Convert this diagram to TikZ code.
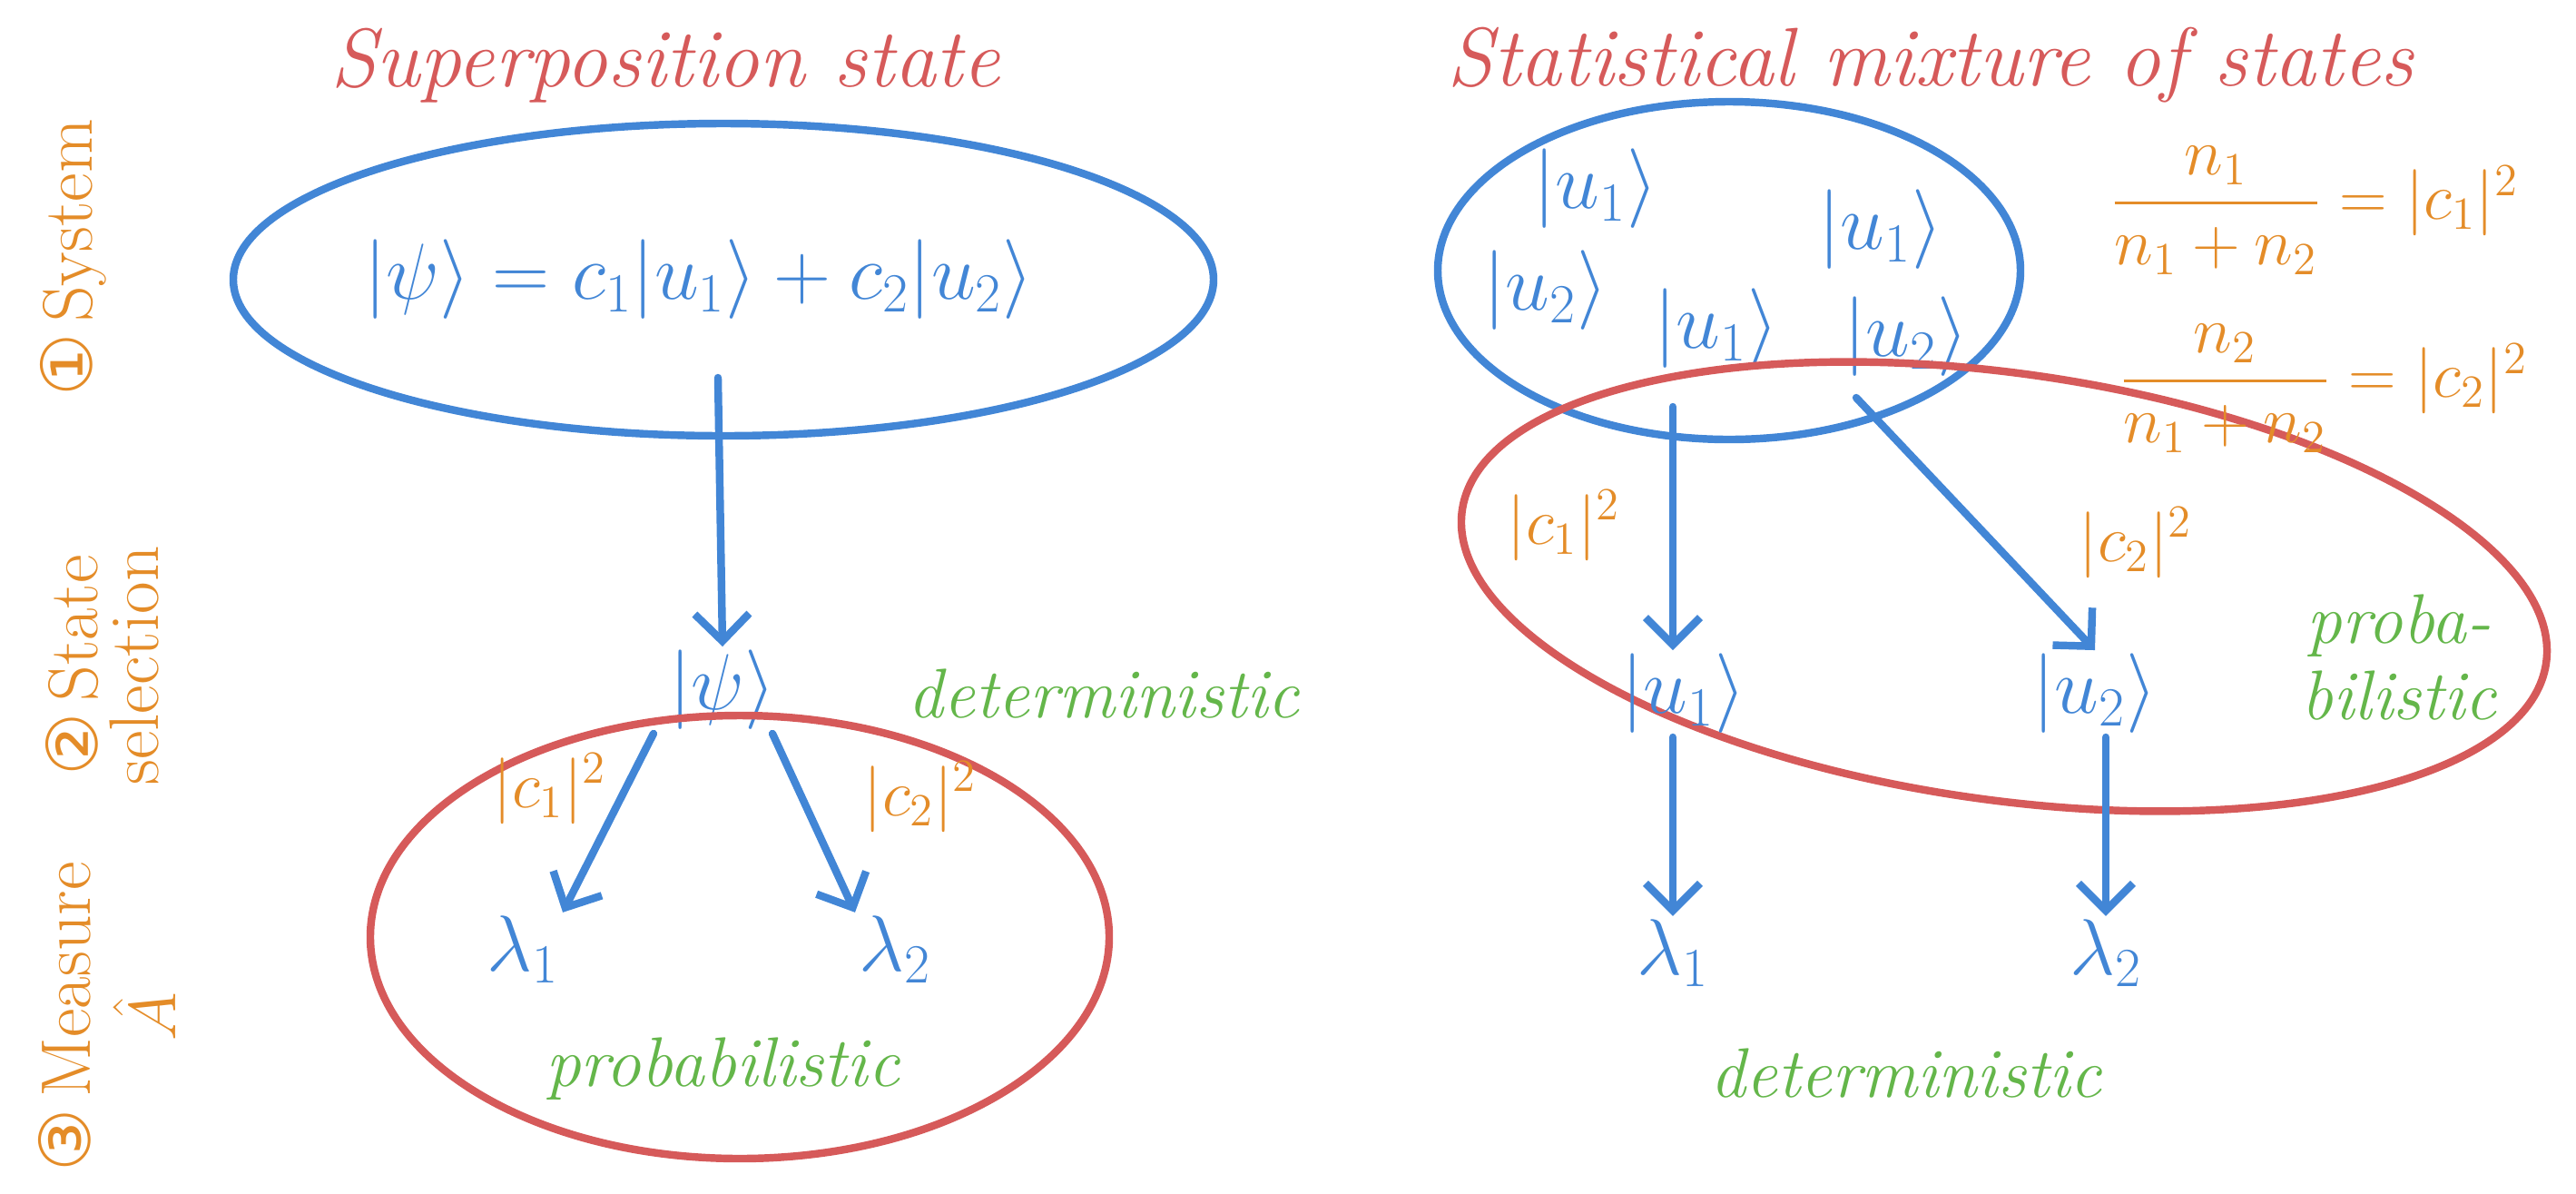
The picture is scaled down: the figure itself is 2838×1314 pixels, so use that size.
\documentclass[tikz,border=0pt]{standalone}
\usepackage{amsmath}
\usepackage{fontspec}
\newfontfamily\circfont{DejaVu Sans}
\usetikzlibrary{arrows.meta, positioning, calc}
\definecolor{inkblue}{RGB}{66,134,214}
\definecolor{inkred}{RGB}{214,90,90}
\definecolor{inkorange}{RGB}{228,140,40}
\definecolor{inkgreen}{RGB}{100,182,74}

\tikzset{
  pen/.style={line width=2.4pt, line cap=round},
  arr/.style={pen, draw=inkblue, -{Straight Barb[length=3mm, width=6mm]}},
  ket/.style={text=inkblue, font=\fontsize{24}{28}\selectfont, inner sep=1pt},
  prob/.style={text=inkorange, font=\fontsize{22}{26}\selectfont, inner sep=1pt},
  title/.style={text=inkred, font=\fontsize{26}{30}\selectfont\itshape},
  remark/.style={text=inkgreen, font=\fontsize{22}{24}\selectfont\itshape, align=center},
  stage/.style={text=inkorange, font=\fontsize{22}{19}\selectfont, rotate=90, align=center}
}

\begin{document}
\begin{tikzpicture}[x=0.01cm, y=-0.01cm]
  \useasboundingbox (0,0) rectangle (2838,1314);

  % stages
  \node[stage] (sys)  at (81,284)   {{\circfont ①}\,System};
  \node[stage] (sel)  at (113,733)  {{\circfont ②}\,State\\selection};
  \node[stage] (meas) at (118,1120) {{\circfont ③}\,Measure\\[6pt]$\hat{A}$};

  % superposition
  \node[title] (suptitle) at (733,72) {Superposition state};
  \draw[pen, inkblue] (797,308) ellipse [x radius=540, y radius=172];
  \node[ket, font=\fontsize{26}{30}\selectfont] (eq) at (770,308) {$|\psi\rangle = c_1|u_1\rangle + c_2|u_2\rangle$};
  \coordinate (eqfoot) at (791,416);
  \node[ket] (psi) at (796,760) {$|\psi\rangle$};
  \node[remark] (detl) at (1216,764) {deterministic};
  \draw[pen, inkred] (815,1032) ellipse [x radius=407, y radius=244];
  \node[ket] (la) at (576,1046) {$\lambda_1$};
  \node[ket] (lb) at (986,1046) {$\lambda_2$};
  \node[prob] (pa) at (606,869) {$|c_1|^2$};
  \node[prob] (pb) at (1014,878) {$|c_2|^2$};
  \node[remark] (probl) at (796,1177) {probabilistic};
  \draw[arr] (eqfoot) -- (psi.north);
  \draw[arr] ([xshift=-0.76cm]psi.south) -- (la.north east);
  \draw[arr] ([xshift=0.55cm]psi.south) -- (lb.north west);

  % mixture
  \node[title] (mixtitle) at (2127,72) {Statistical mixture of states};
  \draw[pen, inkblue] (1905,298) ellipse [x radius=321, y radius=186];
  \node[ket] (ua) at (1758,208) {$|u_1\rangle$};
  \node[ket] (ub) at (2072,253) {$|u_1\rangle$};
  \node[ket] (uc) at (1703,320) {$|u_2\rangle$};
  \node[ket] (ud) at (1891,362) {$|u_1\rangle$};
  \node[ket] (ue) at (2100,371) {$|u_2\rangle$};
  \draw[pen, inkred, rotate around={-8:(2208,646)}] (2208,646) ellipse [x radius=603, y radius=235];
  \node[prob] (fa) at (2550,232) {$\dfrac{n_1}{n_1+n_2} = |c_1|^2$};
  \node[prob] (fb) at (2560,428) {$\dfrac{n_2}{n_1+n_2} = |c_2|^2$};
  \coordinate (sa) at (1843,448);
  \coordinate (sb) at (2045,438);
  \node[ket] (va) at (1855,764) {$|u_1\rangle$};
  \node[ket] (vb) at (2308,764) {$|u_2\rangle$};
  \node[prob] (qa) at (1723,579) {$|c_1|^2$};
  \node[prob] (qb) at (2353,598) {$|c_2|^2$};
  \node[remark] (probr) at (2643,724) {proba-\\bilistic};
  \node[ket] (ra) at (1843,1050) {$\lambda_1$};
  \node[ket] (rb) at (2320,1050) {$\lambda_2$};
  \node[remark] (detr) at (2100,1182) {deterministic};
  \draw[arr] (sa) -- (sa |- va.north);
  \draw[arr] (sb) -- (vb.north);
  \draw[arr] (va.south -| sa) -- (ra.north);
  \draw[arr] (vb.south -| rb) -- (rb.north);
\end{tikzpicture}
\end{document}
